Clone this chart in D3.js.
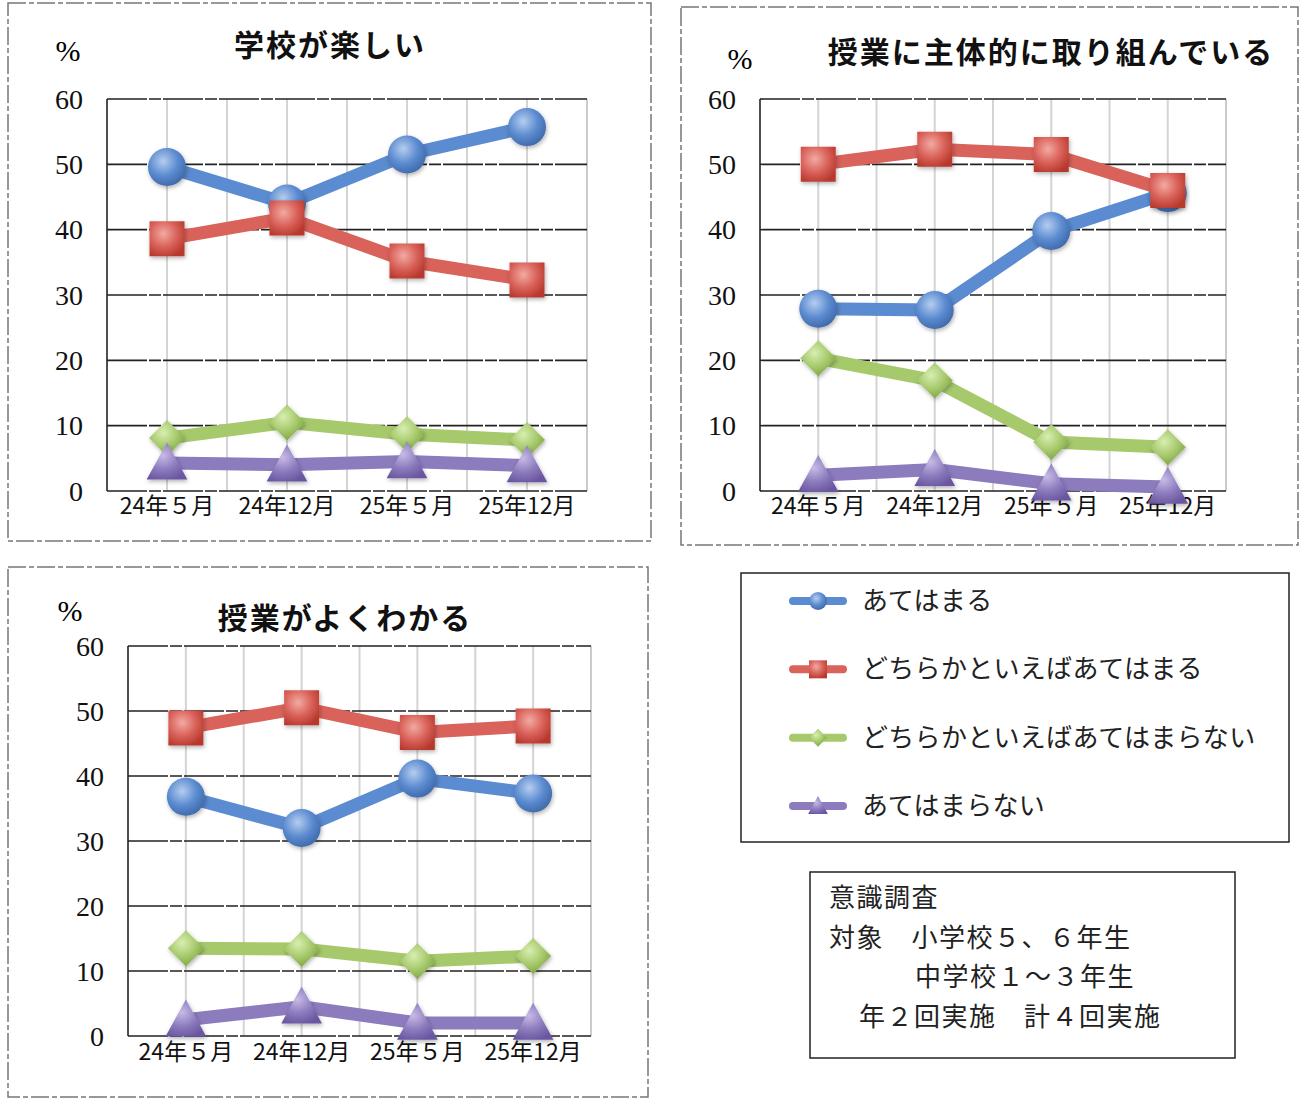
<!DOCTYPE html>
<html lang="ja">
<head>
    <meta charset="UTF-8">
    <title>意識調査</title>
    <script src="https://cdn.jsdelivr.net/npm/d3@7"></script>
    <style>
        body { margin: 0; background: #fff; }
        svg { display: block; }
    </style>
</head>
<body>
<div id="chart"></div>
<script type="text/javascript">
    var w = 1299;
    var h = 1100;

    // data
    var categories = ["24年５月", "24年12月", "25年５月", "25年12月"];
    var seriesNames = ["あてはまる", "どちらかといえばあてはまる", "どちらかといえばあてはまらない", "あてはまらない"];
    var yTicks = [0, 10, 20, 30, 40, 50, 60];

    var tanoshiiAte = [49.6, 44.0, 51.5, 55.7];
    var tanoshiiYaYes = [38.6, 41.8, 35.2, 32.3];
    var tanoshiiYaNo = [8.1, 10.5, 8.7, 7.8];
    var tanoshiiNo = [4.3, 4.0, 4.5, 3.9];

    var shutaiAte = [27.9, 27.7, 39.8, 45.6];
    var shutaiYaYes = [50.0, 52.3, 51.5, 46.0];
    var shutaiYaNo = [20.3, 16.9, 7.5, 6.7];
    var shutaiNo = [2.4, 3.3, 1.1, 0.6];

    var wakaruAte = [36.8, 32.0, 39.6, 37.3];
    var wakaruYaYes = [47.4, 50.5, 46.7, 47.7];
    var wakaruYaNo = [13.5, 13.4, 11.5, 12.3];
    var wakaruNo = [2.5, 4.5, 2.0, 2.0];

    var infoLines = ["意識調査", "対象　小学校５、６年生", "中学校１～３年生", "年２回実施　計４回実施"];

    var lineColors = ["#5b8bd0", "#d9625a", "#a6c96c", "#8c7bbd"];
    var lightColors = ["#b5cdef", "#f2aaa2", "#d8eeb0", "#c7bbe6"];
    var darkColors = ["#3d67a8", "#b8392e", "#7ea33f", "#6a56a0"];
    var shapes = ["circle", "square", "diamond", "triangle"];

    var charts = [
        { title: "学校が楽しい", series: [tanoshiiAte, tanoshiiYaYes, tanoshiiYaNo, tanoshiiNo],
          frame: [8, 3, 651, 541], plot: [107, 99, 587, 491], titleX: 330, titleY: 45, pctX: 68, pctY: 50, xLabY: 506 },
        { title: "授業に主体的に取り組んでいる", series: [shutaiAte, shutaiYaYes, shutaiYaNo, shutaiNo],
          frame: [681, 7, 1298, 545], plot: [760, 99, 1226, 491], titleX: 1051, titleY: 52, pctX: 740, pctY: 58, xLabY: 506 },
        { title: "授業がよくわかる", series: [wakaruAte, wakaruYaYes, wakaruYaNo, wakaruNo],
          frame: [8, 567, 648, 1097], plot: [128, 646, 591, 1036], titleX: 345, titleY: 618, pctX: 70, pctY: 610, xLabY: 1052 }
    ];

    var svg = d3.select("#chart")
        .append("svg")
        .attr("width", w)
        .attr("height", h)
        .attr("xmlns", "http://www.w3.org/2000/svg");

    var defs = svg.append("defs");
    lineColors.forEach(function(c, i) {
        var g = defs.append("radialGradient")
            .attr("id", "grad" + i)
            .attr("cx", "40%").attr("cy", "35%").attr("r", "70%");
        g.append("stop").attr("offset", "0%").attr("stop-color", lightColors[i]);
        g.append("stop").attr("offset", "55%").attr("stop-color", lineColors[i]);
        g.append("stop").attr("offset", "100%").attr("stop-color", darkColors[i]);
    });
    var shadow = defs.append("filter").attr("id", "shadow")
        .attr("x", "-30%").attr("y", "-30%").attr("width", "160%").attr("height", "160%");
    shadow.append("feDropShadow").attr("dx", 1).attr("dy", 2).attr("stdDeviation", 2)
        .attr("flood-color", "#000").attr("flood-opacity", 0.3);

    function markerPath(shape, s) {
        if (shape === "circle") {
            return d3.symbol().type(d3.symbolCircle).size(Math.PI * s * s)();
        } else if (shape === "square") {
            return "M" + (-s) + "," + (-s) + "H" + s + "V" + s + "H" + (-s) + "Z";
        } else if (shape === "diamond") {
            return "M0," + (-s) + "L" + s + ",0L0," + s + "L" + (-s) + ",0Z";
        } else {
            return "M0," + (-s * 1.1) + "L" + (s * 1.1) + "," + (s * 0.9) + "L" + (-s * 1.1) + "," + (s * 0.9) + "Z";
        }
    }
    var markerSizes = [19, 17.5, 18, 18.5];

    function drawChart(c) {
        var g = svg.append("g");
        var f = c.frame, p = c.plot;

        g.append("rect")
            .attr("x", f[0]).attr("y", f[1])
            .attr("width", f[2] - f[0]).attr("height", f[3] - f[1])
            .attr("fill", "none")
            .attr("stroke", "#777")
            .attr("stroke-width", 1.5)
            .attr("stroke-dasharray", "18,3,5,3");

        var x = d3.scaleBand().domain(categories).range([p[0], p[2]]);
        var y = d3.scaleLinear().domain([0, 60]).range([p[3], p[1]]);

        // vertical grid: band centres and band edges
        var vLines = [];
        categories.forEach(function(d, i) {
            vLines.push(x(d) + x.bandwidth() / 2);
            if (i > 0) vLines.push(x(d));
        });
        g.selectAll(".vgrid").data(vLines).enter().append("line")
            .attr("x1", function(d) { return d; }).attr("x2", function(d) { return d; })
            .attr("y1", p[1]).attr("y2", p[3])
            .attr("stroke", "#d4d4d4").attr("stroke-width", 2);
        g.append("line")
            .attr("x1", p[2]).attr("x2", p[2]).attr("y1", p[1]).attr("y2", p[3])
            .attr("stroke", "#bbb").attr("stroke-width", 1.5);

        // horizontal grid
        g.selectAll(".hgrid").data(yTicks).enter().append("line")
            .attr("x1", p[0]).attr("x2", p[2])
            .attr("y1", function(d) { return y(d); }).attr("y2", function(d) { return y(d); })
            .attr("stroke", "#222").attr("stroke-width", 1.6)
            .attr("stroke-dasharray", "40,2,12,2");
        g.append("line")
            .attr("x1", p[0]).attr("x2", p[0]).attr("y1", p[1]).attr("y2", p[3])
            .attr("stroke", "#222").attr("stroke-width", 1.6);

        // y labels (serif, like the original)
        g.selectAll(".ylab").data(yTicks).enter().append("text")
            .attr("x", p[0] - 24)
            .attr("y", function(d) { return y(d); })
            .attr("dy", "0.35em")
            .attr("text-anchor", "end")
            .style("font-family", "'Liberation Serif'")
            .style("font-size", "28px")
            .attr("fill", "#111")
            .text(function(d) { return d; });

        var xAxis = g.append("g")
            .attr("transform", "translate(0," + c.xLabY + ")")
            .call(d3.axisBottom(x).tickSize(0).tickPadding(0));
        xAxis.attr("font-family", null).attr("font-size", null);
        xAxis.select(".domain").remove();
        xAxis.selectAll("text")
            .attr("dy", "0.35em")
            .style("font-family", "'Noto Sans CJK JP'")
            .style("font-size", "23px")
            .attr("fill", "#111");

        g.append("text")
            .attr("x", c.pctX).attr("y", c.pctY)
            .attr("text-anchor", "middle").attr("dy", "0.35em")
            .style("font-family", "'Liberation Serif'")
            .style("font-size", "30px")
            .text("%");

        g.append("text")
            .attr("x", c.titleX).attr("y", c.titleY)
            .attr("text-anchor", "middle").attr("dy", "0.35em")
            .style("font-family", "'Noto Sans CJK JP'")
            .style("font-weight", "bold")
            .style("font-size", "30px")
            .attr("letter-spacing", "2px")
            .attr("fill", "#111")
            .text(c.title);

        var line = d3.line()
            .x(function(d, i) { return x(categories[i]) + x.bandwidth() / 2; })
            .y(function(d) { return y(d); });

        c.series.forEach(function(vals, si) {
            g.append("path")
                .attr("d", line(vals))
                .attr("fill", "none")
                .attr("stroke", lineColors[si])
                .attr("stroke-width", 13)
                .attr("stroke-linejoin", "round");
            g.selectAll(".m" + si).data(vals).enter().append("path")
                .attr("transform", function(d, i) {
                    return "translate(" + (x(categories[i]) + x.bandwidth() / 2) + "," + y(d) + ")";
                })
                .attr("d", markerPath(shapes[si], markerSizes[si]))
                .attr("fill", "url(#grad" + si + ")")
                .attr("filter", "url(#shadow)");
        });
    }

    charts.forEach(drawChart);

    // legend
    var lg = svg.append("g");
    lg.append("rect")
        .attr("x", 741).attr("y", 573).attr("width", 548).attr("height", 269)
        .attr("fill", "none").attr("stroke", "#222").attr("stroke-width", 1.5);
    var legendY = d3.scalePoint().domain(seriesNames).range([601, 806]);
    seriesNames.forEach(function(name, i) {
        var yy = legendY(name);
        lg.append("line")
            .attr("x1", 793).attr("x2", 843).attr("y1", yy).attr("y2", yy)
            .attr("stroke", lineColors[i]).attr("stroke-width", 8).attr("stroke-linecap", "round");
        lg.append("path")
            .attr("transform", "translate(818," + yy + ")")
            .attr("d", markerPath(shapes[i], 9))
            .attr("fill", "url(#grad" + i + ")");
        lg.append("text")
            .attr("x", 862).attr("y", yy).attr("dy", "0.35em")
            .style("font-family", "'Noto Sans CJK JP'")
            .style("font-size", "26px")
            .attr("letter-spacing", "0.3px")
            .attr("fill", "#222")
            .text(name);
    });

    // info box
    var ib = svg.append("g");
    ib.append("rect")
        .attr("x", 810).attr("y", 872).attr("width", 425).attr("height", 186)
        .attr("fill", "none").attr("stroke", "#222").attr("stroke-width", 1.5);
    var infoX = [829, 829, 915, 859];
    var infoY = [898, 938, 977, 1017];
    ib.selectAll(".info").data(infoLines).enter().append("text")
        .attr("x", function(d, i) { return infoX[i]; })
        .attr("y", function(d, i) { return infoY[i]; })
        .attr("dy", "0.35em")
        .style("font-family", "'Noto Sans CJK JP'")
        .style("font-size", "26px")
        .attr("letter-spacing", "1.5px")
        .attr("fill", "#222")
        .text(function(d) { return d; });
</script>
</body>
</html>
